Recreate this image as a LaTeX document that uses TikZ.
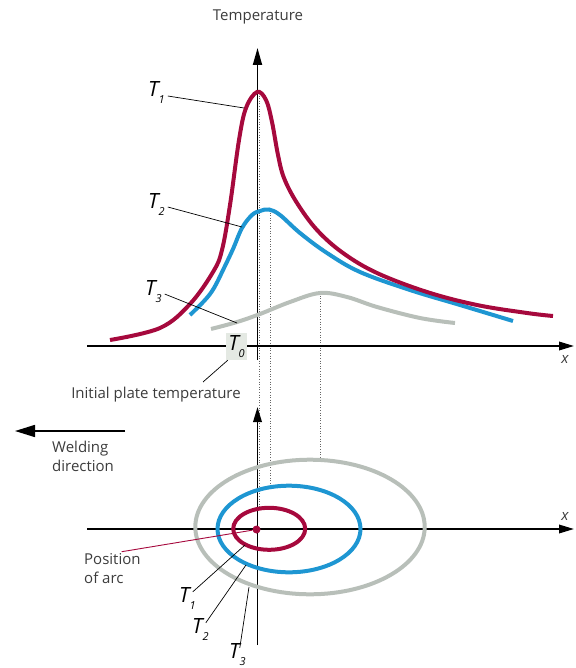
\documentclass[tikz,border=0pt]{standalone}
\usepackage{fontspec}
\setmainfont{Open Sans}
\usetikzlibrary{arrows.meta}

\definecolor{tred}{HTML}{A6093D}
\definecolor{tblue}{HTML}{1E96D2}
\definecolor{tgray}{HTML}{B8BFB9}
\definecolor{tzero}{HTML}{E4E9E3}
\definecolor{ink}{HTML}{3C3C3C}

% T with an italic subscript
\newcommand{\tsub}[1]{\textit{T}\kern-2pt\raisebox{-7pt}{\fontsize{11}{11}\selectfont\itshape #1}}

\begin{document}
\begin{tikzpicture}[
    x=1pt, y=-1pt,
    axis/.style={line width=1.8pt, -{Triangle[length=15pt, width=8.5pt]}},
    curve/.style={line width=4pt},
    ring/.style={line width=4pt},
    lead/.style={line width=0.7pt, black},
    dotline/.style={line width=0.7pt, black!60, dash pattern=on 1pt off 1.6pt},
    lbl/.style={font=\fontsize{15}{19}\selectfont, text=ink, inner sep=0pt, align=left},
    tlbl/.style={font=\fontsize{21}{21}\selectfont, inner sep=0pt, anchor=base west}
]
\useasboundingbox (0,0) rectangle (575,668);

% ---- Dotted projections ----
\coordinate (pk1) at (259,93);
\coordinate (pk2) at (270,210);
\coordinate (pk3) at (320.5,293);
\coordinate (rt1) at (259,507.5);
\coordinate (rt2) at (270,487);
\coordinate (rt3) at (320.5,460);
\draw[dotline] (pk1) -- (rt1);
\draw[dotline] (pk2) -- (rt2);
\draw[dotline] (pk3) -- (rt3);

% ---- Upper diagram: axes ----
\coordinate (ux0) at (87,346);
\coordinate (ux1) at (574,346);
\coordinate (uy0) at (257.5,360);
\coordinate (uy1) at (257.5,48);
\draw[axis] (ux0) -- (ux1);
\draw[axis, -{Triangle[length=17pt, width=9pt]}] (uy0) -- (uy1);
\node[lbl] (temp) at (258,17) {Temperature};
\node[lbl, font=\fontsize{15}{19}\selectfont\itshape] (ux) at (565,359) {x};

% ---- Temperature curves ----
\draw[curve, tgray] plot[smooth, tension=0.6] coordinates {
    (211,329) (237,322) (260,314) (290,302) (320,293) (347,297)
    (377,307) (420,318) (455,323)};
\draw[curve, tblue] plot[smooth, tension=0.6] coordinates {
    (190,315) (205,300) (214,288) (224,268) (233,249) (242,228)
    (252,215) (260,211) (269,209.5) (280,215) (300,233) (327,253)
    (360,272) (410,290) (460,305) (513,321)};
\draw[curve, tred] plot[smooth, tension=0.6] coordinates {
    (110,340) (160,328) (190,304) (213,272) (222,250) (230,205)
    (239,140) (246,108) (257,92) (266,100) (272,122) (278,155)
    (284,178) (297,203) (317,230) (343,253) (377,273) (427,292)
    (477,305) (527,313) (553,316)};

% ---- Upper labels ----
\node[tlbl] (lT1) at (148,97) {\tsub{1}};
\node[tlbl] (lT2) at (148,208) {\tsub{2}};
\node[tlbl] (lT3) at (145,295) {\tsub{3}};
\coordinate (cT1) at (244,108);
\coordinate (cT2) at (242,227);
\coordinate (cT3) at (237,323);
\draw[lead] ([shift={(3,3)}]lT1.east) -- (cT1);
\draw[lead] ([shift={(3,3)}]lT2.east) -- (cT2);
\draw[lead] ([shift={(3,3)}]lT3.east) -- (cT3);

\node[fill=tzero, minimum width=21pt, minimum height=27pt, inner sep=0pt,
    font=\fontsize{21}{21}\selectfont] (lT0) at (236.5,346.5) {\tsub{0}};
\node[lbl, anchor=base] (init) at (156,398) {Initial plate temperature};
\coordinate (cinit) at (203,382);
\draw[lead] ([shift={(2,0)}]lT0.south west) -- (cinit);

% ---- Welding direction ----
\coordinate (wd0) at (125,431);
\coordinate (wd1) at (15,431);
\draw[line width=1.6pt, -{Triangle[length=20pt, width=12pt]}] (wd0) -- (wd1);
\node[lbl, anchor=north west] (weld) at (52,441) {Welding\\direction};

% ---- Lower diagram: axes ----
\coordinate (lx0) at (87,529);
\coordinate (lx1) at (574,529);
\coordinate (ly0) at (257.5,645);
\coordinate (ly1) at (257.5,407);
\draw[axis] (lx0) -- (lx1);
\draw[axis] (ly0) -- (ly1);
\node[lbl, font=\fontsize{15}{19}\selectfont\itshape] (lxl) at (565,516) {x};

% ---- Isotherms ----
\draw[ring, tgray] (310,527) ellipse [x radius=114.7pt, y radius=67.3pt];
\draw[ring, tblue] (289,529) ellipse [x radius=71.5pt, y radius=43.3pt];
\draw[ring, tred] (269.2,528.8) ellipse [x radius=36pt, y radius=21pt];

% ---- Position of arc ----
\node[circle, fill=tred, minimum size=8pt, inner sep=0pt] (arc) at (256.5,529.5) {};
\coordinate (carc) at (121.7,551.7);
\draw[tred, line width=0.9pt] (arc) -- (carc);
\node[lbl, anchor=north west] (parc) at (84,553) {Position\\of arc};

% ---- Lower labels ----
\node[tlbl] (lB1) at (179,602) {\tsub{1}};
\node[tlbl] (lB2) at (192,633) {\tsub{2}};
\node[tlbl] (lB3) at (229,658) {\tsub{3}};
\coordinate (cB1) at (245,545);
\coordinate (cB2) at (246,565);
\coordinate (cB3) at (249,587);
\draw[lead] ([shift={(-3,5)}]lB1.north east) -- (cB1);
\draw[lead] ([shift={(-3,5)}]lB2.north east) -- (cB2);
\draw[lead] ([shift={(-6,5)}]lB3.north east) -- (cB3);
\end{tikzpicture}
\end{document}
